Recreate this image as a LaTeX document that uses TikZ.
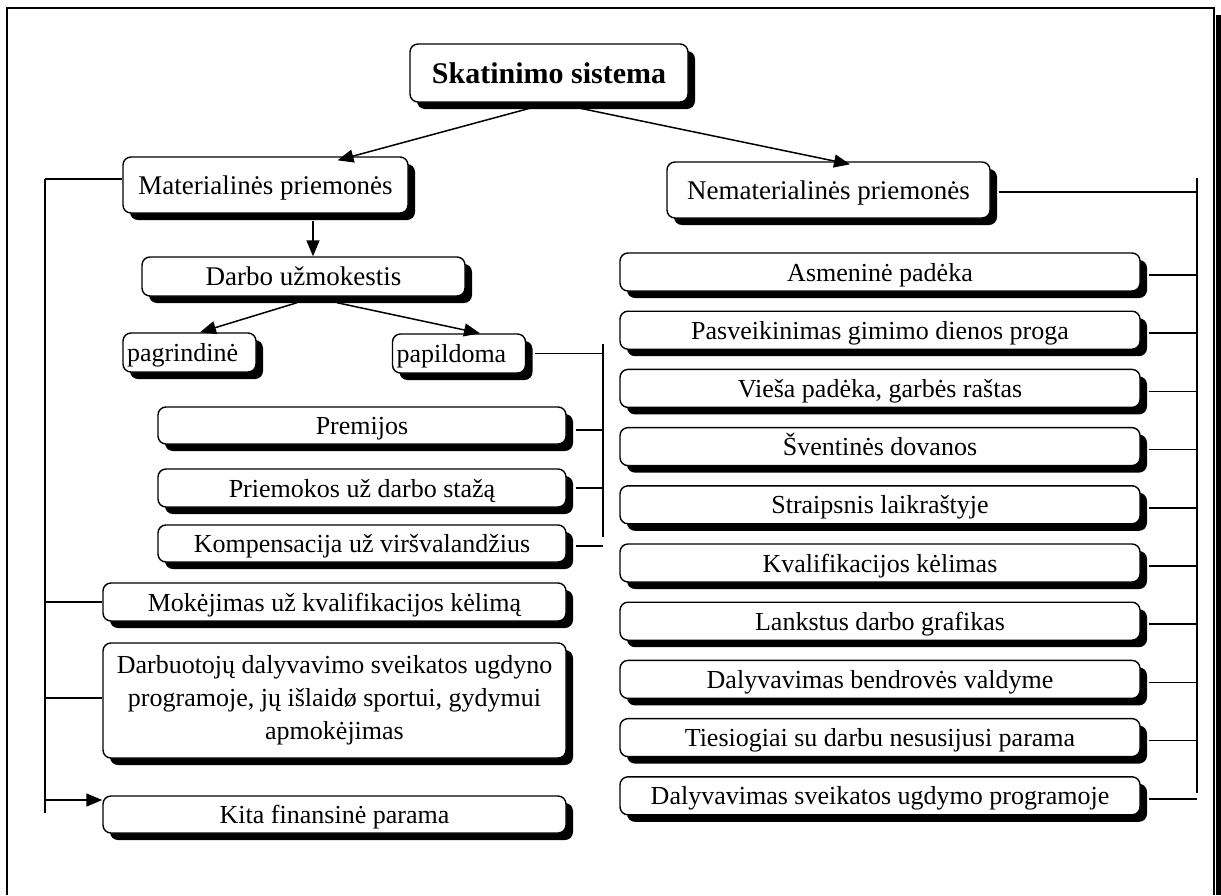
\documentclass[tikz,border=0pt]{standalone}
\usepackage{fontspec}
\setmainfont{Liberation Serif}
\usetikzlibrary{arrows.meta,shadows}
\newcommand\fsReg{\fontsize{26}{33}\selectfont}
\newcommand\fsBig{\fontsize{27}{32}\selectfont}
\newcommand\fsMid{\fontsize{27}{32}\selectfont}
\newcommand\fsTop{\fontsize{30}{34}\selectfont\bfseries}
\begin{document}
\begin{tikzpicture}[x=1pt,y=-1pt,
  bx/.style={draw,line width=1.4pt,rounded corners=8pt,fill=white,inner sep=0pt,
    text height=18pt,text depth=0pt,
    drop shadow={shadow xshift=7pt,shadow yshift=-7pt,opacity=1,fill=black}},
  ln/.style={line width=1.5pt},
  arr/.style={ln,-{Triangle[length=16pt,width=13pt]}},
  rbox/.style={bx,minimum width=520pt,minimum height=38pt,font=\fsReg},
  lbox/.style={bx,minimum height=38pt,font=\fsReg},
  sbox/.style={bx,minimum height=39pt,font=\fsReg,text width=125pt,align=left,inner xsep=4pt},
]
\useasboundingbox (0,0) rectangle (1221,895);
% outer frame
\fill[black] (1216,15) rectangle (1221,895);
\draw[line width=2pt] (7,895) -- (7,8) -- (1214,8) -- (1214,895);

% main boxes
\node[bx,minimum width=278pt,minimum height=58pt,font=\fsTop,text height=20pt] (title) at (549,73) {Skatinimo sistema};
\node[bx,minimum width=285pt,minimum height=56pt,font=\fsBig] (mat) at (265.5,185) {Materialinės priemonės};
\node[bx,minimum width=323pt,minimum height=56pt,font=\fsBig] (nemat) at (828.5,190) {Nematerialinės priemonės};
\node[bx,minimum width=323pt,minimum height=39pt,font=\fsMid] (darbo) at (303.5,276.5) {Darbo užmokestis};
\node[sbox] (pagr) at (189.5,352.5) {pagrindinė};
\node[sbox] (papil) at (459,353.5) {papildoma};

% left column
\node[lbox,minimum width=408pt,minimum height=37pt] (prem) at (362,425.5) {Premijos};
\node[lbox,minimum width=408pt] (priem) at (362,488) {Priemokos už darbo stažą};
\node[lbox,minimum width=408pt,minimum height=37pt] (komp) at (362,543.5) {Kompensacija už viršvalandžius};
\node[lbox,minimum width=463pt] (mok) at (334.5,602) {Mokėjimas už kvalifikacijos kėlimą};
\node[lbox,minimum width=463pt,minimum height=115pt,align=center,text height=,text depth=] (darbuot) at (334.5,700.5)
  {Darbuotojų dalyvavimo sveikatos ugdyno\\programoje, jų išlaidø sportui, gydymui\\apmokėjimas};
\node[lbox,minimum width=463pt,minimum height=37pt] (kita) at (334.5,814.5) {Kita finansinė parama};

% right column
\foreach \i/\t in {1/Asmeninė padėka,2/Pasveikinimas gimimo dienos proga,3/{Vieša padėka, garbės raštas},
  4/Šventinės dovanos,5/Straipsnis laikraštyje,6/Kvalifikacijos kėlimas,7/Lankstus darbo grafikas,
  8/Dalyvavimas bendrovės valdyme,9/Tiesiogiai su darbu nesusijusi parama,10/Dalyvavimas sveikatos ugdymo programoje}{
  \node[rbox] (r\i) at (880,{272+58.2*(\i-1)}) {\t};
}

% bus coordinates
\coordinate (lbtop) at (45,179);
\coordinate (lbbot) at (45,813);
\coordinate (rbtop) at (1197,178);
\coordinate (rbbot) at (1197,793);
\coordinate (mbtop) at (603,344);
\coordinate (mbbot) at (603,537);

% arrows
\draw[arr] ([xshift=-6pt,yshift=-2pt]title.south) -- ([xshift=72pt,yshift=-4pt]mat.north);
\draw[arr] ([xshift=14pt,yshift=-2pt]title.south) -- ([xshift=21.5pt,yshift=-3pt]nemat.north);
\draw[arr] ([xshift=47.5pt,yshift=-7pt]mat.south) -- ([xshift=47.5pt]mat.south |- darbo.north);
\draw[arr] ([xshift=-6.5pt,yshift=-6pt]darbo.south) -- ([xshift=10.5pt]pagr.north);
\draw[arr] ([xshift=33.5pt,yshift=-6pt]darbo.south) -- ([xshift=21pt]papil.north);

% left bus
\draw[ln] (lbtop) -- (lbbot);
\draw[ln] (lbtop) -- (lbtop -| mat.west);
\draw[ln] (mok.west -| lbtop) -- (mok.west);
\draw[ln] ([yshift=2.5pt]darbuot.west -| lbtop) -- ([yshift=2.5pt]darbuot.west);
\draw[arr] ([yshift=14.5pt]kita.west -| lbtop) -- ([yshift=14.5pt]kita.west);

% middle bus
\draw[ln] (mbtop) -- (mbbot);
\draw[ln] ([xshift=9pt]papil.east) -- (papil.east -| mbtop);
\draw[ln] ([xshift=9pt,yshift=-4.5pt]prem.east) -- ([yshift=-4.5pt]prem.east -| mbtop);
\draw[ln] ([xshift=9pt]priem.east) -- (priem.east -| mbtop);
\draw[ln] ([xshift=9pt,yshift=-2.5pt]komp.east) -- ([yshift=-2.5pt]komp.east -| mbtop);

% right bus
\draw[ln] (rbtop) -- (rbbot);
\draw[ln] ([xshift=8pt,yshift=-2pt]nemat.east) -- ([yshift=-2pt]nemat.east -| rbtop);
\foreach \i in {1,...,10}{
  \draw[ln] ([xshift=8pt,yshift=-3pt]r\i.east) -- ([yshift=-3pt]r\i.east -| rbtop);
}
\end{tikzpicture}
\end{document}
